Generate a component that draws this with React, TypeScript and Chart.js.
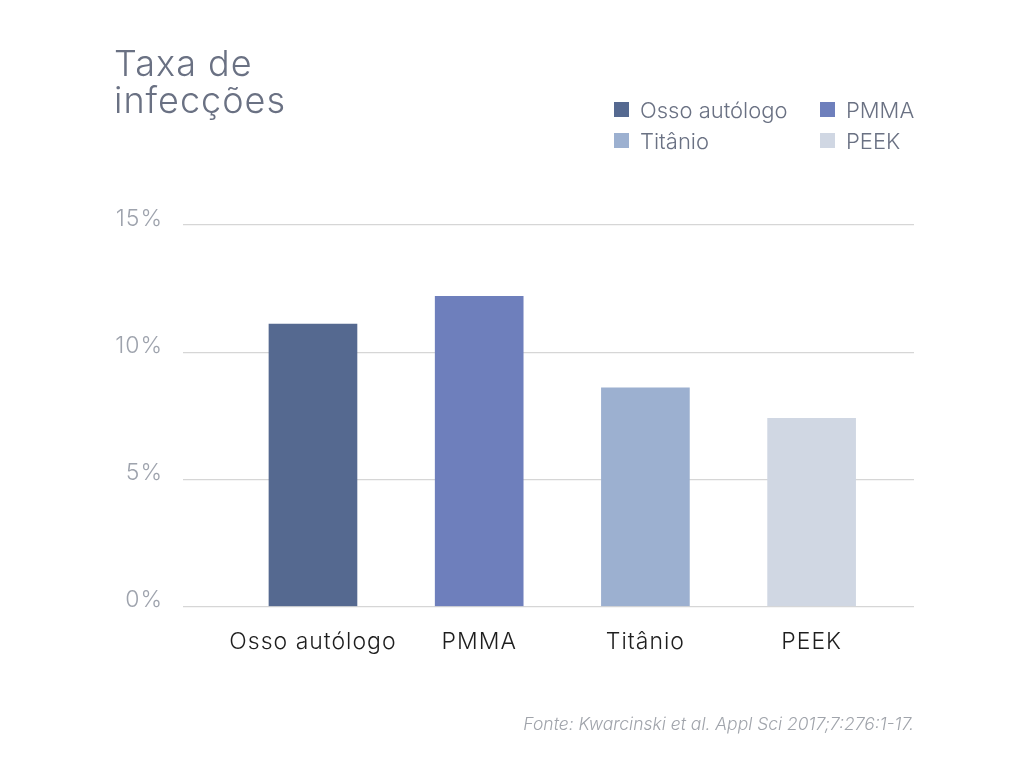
import React, { useEffect, useRef } from "react";
import { Chart, registerables } from "chart.js";

Chart.register(...registerables);

const categories = ["Osso autólogo", "PMMA", "Titânio", "PEEK"];
const values = [11.1, 12.2, 8.6, 7.4];
const colors = ["#556990", "#6e7fbc", "#9cb0d0", "#d0d7e3"];
const yTicks = [0, 5, 10, 15];
const titleLines = ["Taxa de", "infecções"];
const sourceText = "Fonte: Kwarcinski et al. Appl Sci 2017;7:276:1-17.";

const FONT = "Inter, 'Noto Sans', sans-serif";

const spacingPlugin = {
  id: "spacing",
  beforeDraw(chart: any) {
    chart.ctx.letterSpacing = "1px";
  },
};

export default function App() {
  const ref = useRef<HTMLCanvasElement | null>(null);

  useEffect(() => {
    if (!ref.current) return;
    const chart = new Chart(ref.current, {
      type: "bar",
      data: {
        datasets: categories.map((c, i) => ({
          label: c,
          data: [{ x: i, y: values[i] }],
          backgroundColor: colors[i],
          borderWidth: 0,
          barThickness: 88,
          grouped: false,
        })) as any,
      },
      plugins: [spacingPlugin],
      options: {
        animation: false,
        responsive: false,
        maintainAspectRatio: false,
        layout: { padding: { top: 225, right: 110, left: 0, bottom: 0 } },
        plugins: { legend: { display: false }, tooltip: { enabled: false } },
        scales: {
          x: {
            type: "linear",
            offset: false,
            min: -0.782,
            max: 3.616,
            grid: { display: false, offset: false },
            border: { display: false },
            afterBuildTicks: (s: any) => {
              s.ticks = categories.map((_, i) => ({ value: i }));
            },
            afterFit: (s: any) => {
              s.height = 759 - 606.5;
            },
            ticks: {
              autoSkip: false,
              maxRotation: 0,
              padding: 14,
              color: "#1e1e1e",
              font: { family: FONT, size: 23, weight: 300 as any },
              callback: (v: any) => categories[v] ?? "",
            },
          },
          y: {
            min: 0,
            max: 15,
            afterBuildTicks: (s: any) => {
              s.ticks = yTicks.map((v) => ({ value: v }));
            },
            afterFit: (s: any) => {
              s.width = 183;
            },
            grid: { color: "#d6d6d6", lineWidth: 1.3, drawTicks: false },
            border: { display: false },
            ticks: {
              padding: 20,
              labelOffset: -6,
              color: "#9ea3ad",
              font: { family: FONT, size: 23, weight: 300 as any },
              callback: (v: any) => v + "%",
            },
          },
        },
      } as any,
    });
    return () => chart.destroy();
  }, []);

  return (
    <div style={{ position: "fixed", left: 0, top: 0, width: 1024, height: 759, background: "#fff", fontFamily: FONT }}>
      <canvas ref={ref} width={1024} height={759} style={{ position: "absolute", left: 0, top: 0 }} />
      <div style={{ position: "absolute", left: 114, top: 45, fontSize: 36, lineHeight: "37px", letterSpacing: 1, color: "#6a7183", fontWeight: 300 }}>
        {titleLines.map((l) => (
          <div key={l}>{l}</div>
        ))}
      </div>
      <div style={{ position: "absolute", left: 614, top: 96, display: "grid", gridTemplateColumns: "206px 120px", rowGap: 4 }}>
        {categories.map((c, i) => (
          <div key={c} style={{ display: "flex", alignItems: "center", height: 27, fontSize: 22, fontWeight: 300, color: "#6a7183" }}>
            <span style={{ display: "inline-block", width: 15, height: 15, background: colors[i], marginRight: 11 }} />
            {c}
          </div>
        ))}
      </div>
      <div style={{ position: "absolute", right: 110, top: 713, fontSize: 17.5, fontStyle: "italic", fontWeight: 300, color: "#a0a4ab" }}>
        {sourceText}
      </div>
    </div>
  );
}
